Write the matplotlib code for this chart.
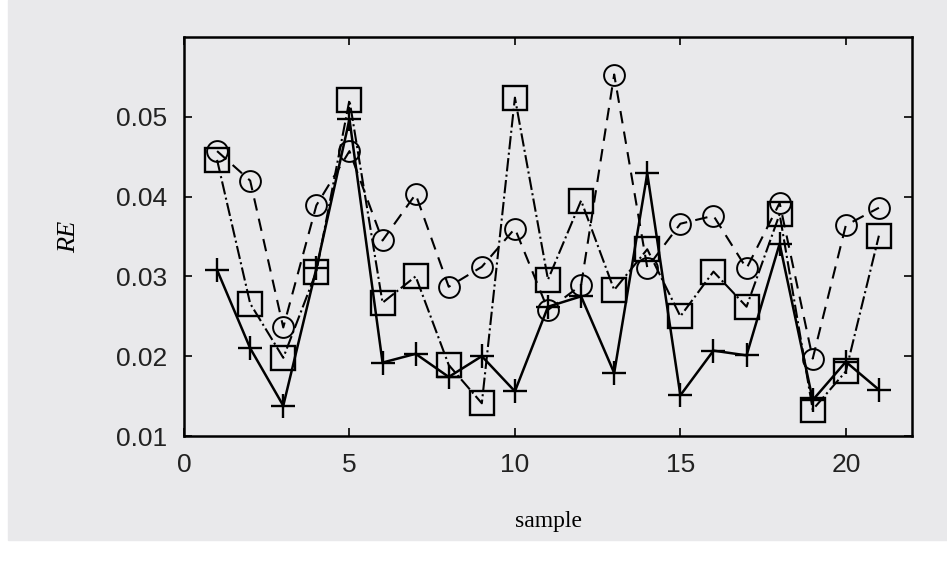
import numpy as np
import matplotlib.pyplot as plt
from matplotlib.patches import Rectangle

# datos
sample = np.arange(1, 22)
re_plus = [0.0308, 0.0210, 0.0138, 0.0310, 0.0497, 0.0192, 0.0203, 0.0174, 0.0200, 0.0156,
           0.0262, 0.0275, 0.0179, 0.0429, 0.0151, 0.0207, 0.0201, 0.0341, 0.0145, 0.0193, 0.0158]
re_square = [0.0446, 0.0266, 0.0198, 0.0306, 0.0521, 0.0267, 0.0300, 0.0189, 0.0141, 0.0524,
             0.0296, 0.0395, 0.0283, 0.0334, 0.0250, 0.0306, 0.0262, 0.0378, 0.0133, 0.0181, 0.0351]
re_circle = [0.0457, 0.0420, 0.0236, 0.0389, 0.0457, 0.0345, 0.0403, 0.0287, 0.0312, 0.0360,
             0.0258, 0.0289, 0.0553, 0.0311, 0.0366, 0.0376, 0.0310, 0.0392, 0.0197, 0.0364, 0.0386]
x_ticks = [0, 5, 10, 15, 20]
y_ticks = [0.01, 0.02, 0.03, 0.04, 0.05]

bg = '#e9e9eb'
fig = plt.figure(figsize=(9.47, 5.62), dpi=100, facecolor='white')
fig.patches.append(Rectangle((8/947, 22/562), 1 - 8/947, 1 - 22/562,
                             transform=fig.transFigure, color=bg, zorder=-10))
ax = fig.add_axes([184/947, 126/562, 728/947, 399/562])
ax.set_facecolor(bg)

ax.plot(sample, re_plus, color='black', linestyle='-', linewidth=1.8,
        marker='+', markersize=17, markeredgewidth=1.7)
ax.plot(sample, re_square, color='black', linestyle='-.', linewidth=1.5,
        marker='s', markersize=17, markeredgewidth=1.7, fillstyle='none')
ax.plot(sample, re_circle, color='black', linestyle='--', linewidth=1.5,
        marker='o', markersize=15, markeredgewidth=1.4, fillstyle='none', dashes=(6, 4))

ax.set_xlim(0, 22)
ax.set_ylim(0.01, 0.06)
ax.set_xticks(x_ticks)
ax.set_yticks(y_ticks)
ax.set_yticklabels(['0.01', '0.02', '0.03', '0.04', '0.05'])
ax.tick_params(direction='in', top=True, right=True, length=6, width=1.2,
               labelsize=19, pad=12)
for lab in ax.get_xticklabels() + ax.get_yticklabels():
    lab.set_family('Liberation Sans')
    lab.set_color('#222222')
for s in ax.spines.values():
    s.set_linewidth(1.8)

ax.set_xlabel('sample', fontsize=17, family='Liberation Serif', labelpad=25)
ax.set_ylabel('RE', fontsize=19, family='Liberation Serif', style='italic', labelpad=26)

fig.savefig('out.png', dpi=100, facecolor=fig.get_facecolor())
